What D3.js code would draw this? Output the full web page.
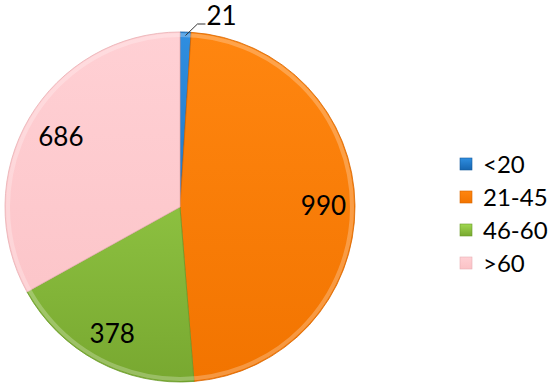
<!DOCTYPE html>
<html>
<head>
<meta charset="utf-8">
<script src="https://cdn.jsdelivr.net/npm/d3@7/dist/d3.min.js"></script>
<style>
  body { margin: 0; background: #fff; }
  text { font-family: Lato, "Open Sans", sans-serif; fill: #000; }
</style>
</head>
<body>
<div class="chart"></div>
<script>
// Chart data
var categories = ["<20", "21-45", "46-60", ">60"];
var values = [21, 990, 378, 686];

// Colours per category (light top / dark bottom for the bevel look)
var lightColors = ["#2f8ee0", "#ff8610", "#a0d850", "#ffd0d4"];
var darkColors = ["#1665b0", "#f27400", "#78a830", "#fbc2c6"];
var strokeColors = ["#175a9c", "#d86600", "#6a9a2a", "#e8b0b4"];

var svgWidth = 550;
var svgHeight = 391;

var cx = 180, cy = 207, radius = 175;

var svg = d3.select(".chart")
  .append("svg")
  .attr("width", svgWidth)
  .attr("height", svgHeight);

var defs = svg.append("defs");
categories.forEach(function(c, i) {
  var g = defs.append("linearGradient")
    .attr("id", "grad" + i)
    .attr("gradientUnits", "userSpaceOnUse")
    .attr("x1", 0).attr("y1", -radius)
    .attr("x2", 0).attr("y2", radius);
  g.append("stop").attr("offset", "0%").attr("stop-color", lightColors[i]);
  g.append("stop").attr("offset", "100%").attr("stop-color", darkColors[i]);
  var lg = defs.append("linearGradient")
    .attr("id", "legGrad" + i)
    .attr("x1", 0).attr("y1", 0).attr("x2", 0).attr("y2", 1);
  lg.append("stop").attr("offset", "0%").attr("stop-color", lightColors[i]);
  lg.append("stop").attr("offset", "100%").attr("stop-color", darkColors[i]);
});

var chart = svg.append("g")
  .attr("transform", "translate(" + cx + "," + cy + ")");

var pie = d3.pie().sort(null).value(function(d) { return d; });
var arcs = pie(values);

var arc = d3.arc().innerRadius(0).outerRadius(radius);

chart.selectAll("path.slice")
  .data(arcs)
  .enter().append("path")
  .attr("class", "slice")
  .attr("d", arc)
  .attr("fill", function(d, i) { return "url(#grad" + i + ")"; })
  .attr("stroke", function(d, i) { return strokeColors[i]; })
  .attr("stroke-width", 0.8);

// subtle bevel highlight on the rim
chart.append("circle")
  .attr("r", radius - 3)
  .attr("fill", "none")
  .attr("stroke", "#fff")
  .attr("stroke-opacity", 0.25)
  .attr("stroke-width", 4);

// Data labels inside slices (relative radius for each)
var labelRadius = [1.12, 0.82, 0.82, 0.79];
var labelPos = function(d, i) {
  var a = (d.startAngle + d.endAngle) / 2;
  var r = radius * labelRadius[i];
  return [Math.sin(a) * r, -Math.cos(a) * r];
};

chart.selectAll("text.inlabel")
  .data(arcs.slice(1))
  .enter().append("text")
  .attr("class", "inlabel")
  .attr("x", function(d, i) { return labelPos(d, i + 1)[0]; })
  .attr("y", function(d, i) { return labelPos(d, i + 1)[1]; })
  .attr("dy", "0.35em")
  .attr("text-anchor", "middle")
  .attr("font-size", 26)
  .text(function(d) { return d.data; });

// Small slice label outside with leader line
var small = arcs[0];
var midA = (small.startAngle + small.endAngle) / 2;
var p0 = [Math.sin(midA) * radius * 0.98, -Math.cos(midA) * radius * 0.98];
chart.append("polyline")
  .attr("points", [p0, [p0[0] + 12, -183], [p0[0] + 20, -183]].map(function(p) { return p.join(","); }).join(" "))
  .attr("fill", "none")
  .attr("stroke", "#333")
  .attr("stroke-width", 1);
chart.append("text")
  .attr("x", p0[0] + 21)
  .attr("y", -191)
  .attr("dy", "0.35em")
  .attr("font-size", 26)
  .text(small.data);

// Legend
var legend = svg.append("g").attr("transform", "translate(460,164)");
var rows = legend.selectAll("g")
  .data(categories)
  .enter().append("g")
  .attr("transform", function(d, i) { return "translate(0," + (i * 33) + ")"; });
rows.append("rect")
  .attr("x", 0).attr("y", -6)
  .attr("width", 12).attr("height", 12)
  .attr("fill", function(d, i) { return "url(#legGrad" + i + ")"; })
  .attr("stroke", function(d, i) { return strokeColors[i]; })
  .attr("stroke-width", 0.6);
rows.append("text")
  .attr("x", 23)
  .attr("dy", "0.36em")
  .attr("font-size", 24)
  .text(function(d) { return d; });
</script>
</body>
</html>
